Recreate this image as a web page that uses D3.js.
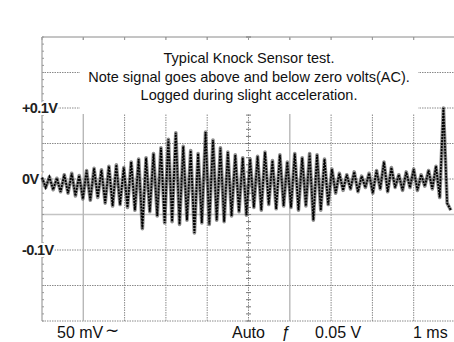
<!DOCTYPE html>
<html>
<head>
<meta charset="utf-8">
<script src="https://cdn.jsdelivr.net/npm/d3@7"></script>
<style>
  body { margin: 0; background: #fff; }
  svg { display: block; font-family: "Liberation Sans", Arial, sans-serif; }
</style>
</head>
<body>
<div id="chart"></div>
<script>
// scope trace, mV, one sample every half cycle (0.09 ms)
const sampleStepMs = 0.09;
const traceMv = [
    2, -12, 3, -15, 1, -18, 6, -20, 8, -24,
    5, -28, 12, -30, 15, -26, 13, -34, 18, -38,
    20, -36, 16, -40, 24, -44, 28, -70, 30, -46,
    36, -52, 44, -62, 56, -60, 65, -64, 46, -58,
    40, -76, 36, -62, 66, -64, 55, -58, 44, -60,
    38, -52, 34, -46, 30, -51, 28, -40, 32, -44,
    38, -36, 26, -42, 34, -38, 24, -40, 36, -44,
    30, -38, 36, -58, 34, -44, 28, -36, 14, -20,
    8, -16, 6, -14, 10, -18, 4, -12, 8, -20,
    12, -14, 24, -18, 16, -12, 6, -16, 10, -12,
    14, -16, 6, -10, 12, -14, 18, -26, 100, -34,
    -44
];

const voltTicks = [100, 0, -100];
const voltLabels = ['+0.1V', '0V', '-0.1V'];
const titleLines = [
    'Typical Knock Sensor test.',
    'Note signal goes above and below zero volts(AC).',
    'Logged during slight acceleration.'
];
const footer = [
    { text: '50 mV', x: 57 },
    { text: '\u223C', x: 105 },
    { text: 'Auto', x: 232 },
    { text: '\u0192', x: 281 },
    { text: '0.05 V', x: 315 },
    { text: '1 ms', x: 413 }
];
const timeDivs = d3.range(0, 11);          // 1 ms / div
const voltDivs = d3.range(-200, 201, 50);  // 50 mV / div

const width = 454,
    height = 342,
    plot = { left: 42, right: 455, top: 37, bottom: 321 };

const x = d3.scaleLinear().domain([0, 10]).range([plot.left, plot.right]);
const y = d3.scaleLinear().domain([-200, 200]).range([plot.bottom, plot.top]);

const svg = d3.select('#chart').append('svg')
    .attr('width', width)
    .attr('height', height);

const grid = svg.append('g');

// horizontal grid
grid.selectAll('.hgrid')
    .data(voltDivs)
    .enter().append('line')
    .attr('x1', plot.left).attr('x2', plot.right)
    .attr('y1', (d) => y(d)).attr('y2', (d) => y(d))
    .attr('stroke', (d) => d === -50 ? '#c4c4c4' : '#8a8a8a')
    .attr('stroke-width', (d) => d === -50 ? 1.6 : 1)
    .attr('stroke-dasharray', (d) => (d === -50 || d === 200) ? null : '1.5,1');

// vertical grid
grid.selectAll('.vgrid')
    .data(timeDivs)
    .enter().append('line')
    .attr('x1', (d) => x(d)).attr('x2', (d) => x(d))
    .attr('y1', plot.top).attr('y2', plot.bottom)
    .attr('stroke', (d) => (d === 1 || d === 6) ? '#b8b8b8' : '#8a8a8a')
    .attr('stroke-width', (d) => (d === 1 || d === 6) ? 1.4 : 1)
    .attr('stroke-dasharray', (d) => (d === 0 || d === 1 || d === 6) ? null : '1.5,1');

// minor ticks on centre axis and left border
const minor = d3.range(-200, 201, 10);
grid.selectAll('.cminor')
    .data(minor)
    .enter().append('line')
    .attr('x1', x(5) - 2.5).attr('x2', x(5) + 2.5)
    .attr('y1', (d) => y(d)).attr('y2', (d) => y(d))
    .attr('stroke', '#777');
grid.selectAll('.lminor')
    .data(minor)
    .enter().append('line')
    .attr('x1', x(0)).attr('x2', x(0) + 2)
    .attr('y1', (d) => y(d)).attr('y2', (d) => y(d))
    .attr('stroke', '#999');
grid.selectAll('.tminor')
    .data(timeDivs)
    .enter().append('line')
    .attr('x1', (d) => x(d)).attr('x2', (d) => x(d))
    .attr('y1', plot.top).attr('y2', plot.top + 3)
    .attr('stroke', '#999');

// trace
const line = d3.line()
    .x((d, i) => x(i * sampleStepMs))
    .y((d) => y(d));

svg.append('path')
    .datum(traceMv)
    .attr('fill', 'none')
    .attr('stroke', '#444')
    .attr('stroke-opacity', 0.6)
    .attr('stroke-width', 3.6)
    .attr('stroke-linejoin', 'round')
    .attr('d', line);

svg.append('path')
    .datum(traceMv)
    .attr('fill', 'none')
    .attr('stroke', '#000')
    .attr('stroke-width', 1.8)
    .attr('stroke-dasharray', '2,1')
    .attr('d', line);

// title box
svg.append('rect')
    .attr('x', 80).attr('y', 40)
    .attr('width', 338).attr('height', 74)
    .attr('fill', '#fff');

svg.selectAll('.title')
    .data(titleLines)
    .enter().append('text')
    .attr('x', 249)
    .attr('y', (d, i) => 63 + i * 18.6)
    .attr('text-anchor', 'middle')
    .attr('font-size', '14.5px')
    .attr('fill', '#111')
    .text((d) => d);

// volt labels (white behind)
svg.selectAll('.vlab')
    .data(voltTicks)
    .enter().append('text')
    .attr('x', 22)
    .attr('y', (d) => y(d))
    .attr('dy', '0.36em')
    .attr('font-size', '14.5px')
    .attr('font-weight', 'bold')
    .attr('fill', '#222')
    .attr('stroke', '#fff')
    .attr('stroke-width', 4)
    .attr('paint-order', 'stroke')
    .attr('letter-spacing', '-0.6px')
    .text((d, i) => voltLabels[i]);

// footer
svg.selectAll('.foot')
    .data(footer)
    .enter().append('text')
    .attr('x', (d) => d.x)
    .attr('y', (d) => d.text === '\u223C' ? 336 : 338)
    .attr('font-size', (d) => d.text === '\u223C' ? '17px' : '16px')
    .attr('fill', '#111')
    .attr('font-style', (d) => d.text === '\u0192' ? 'italic' : null)
    .text((d) => d.text);
</script>
</body>
</html>
